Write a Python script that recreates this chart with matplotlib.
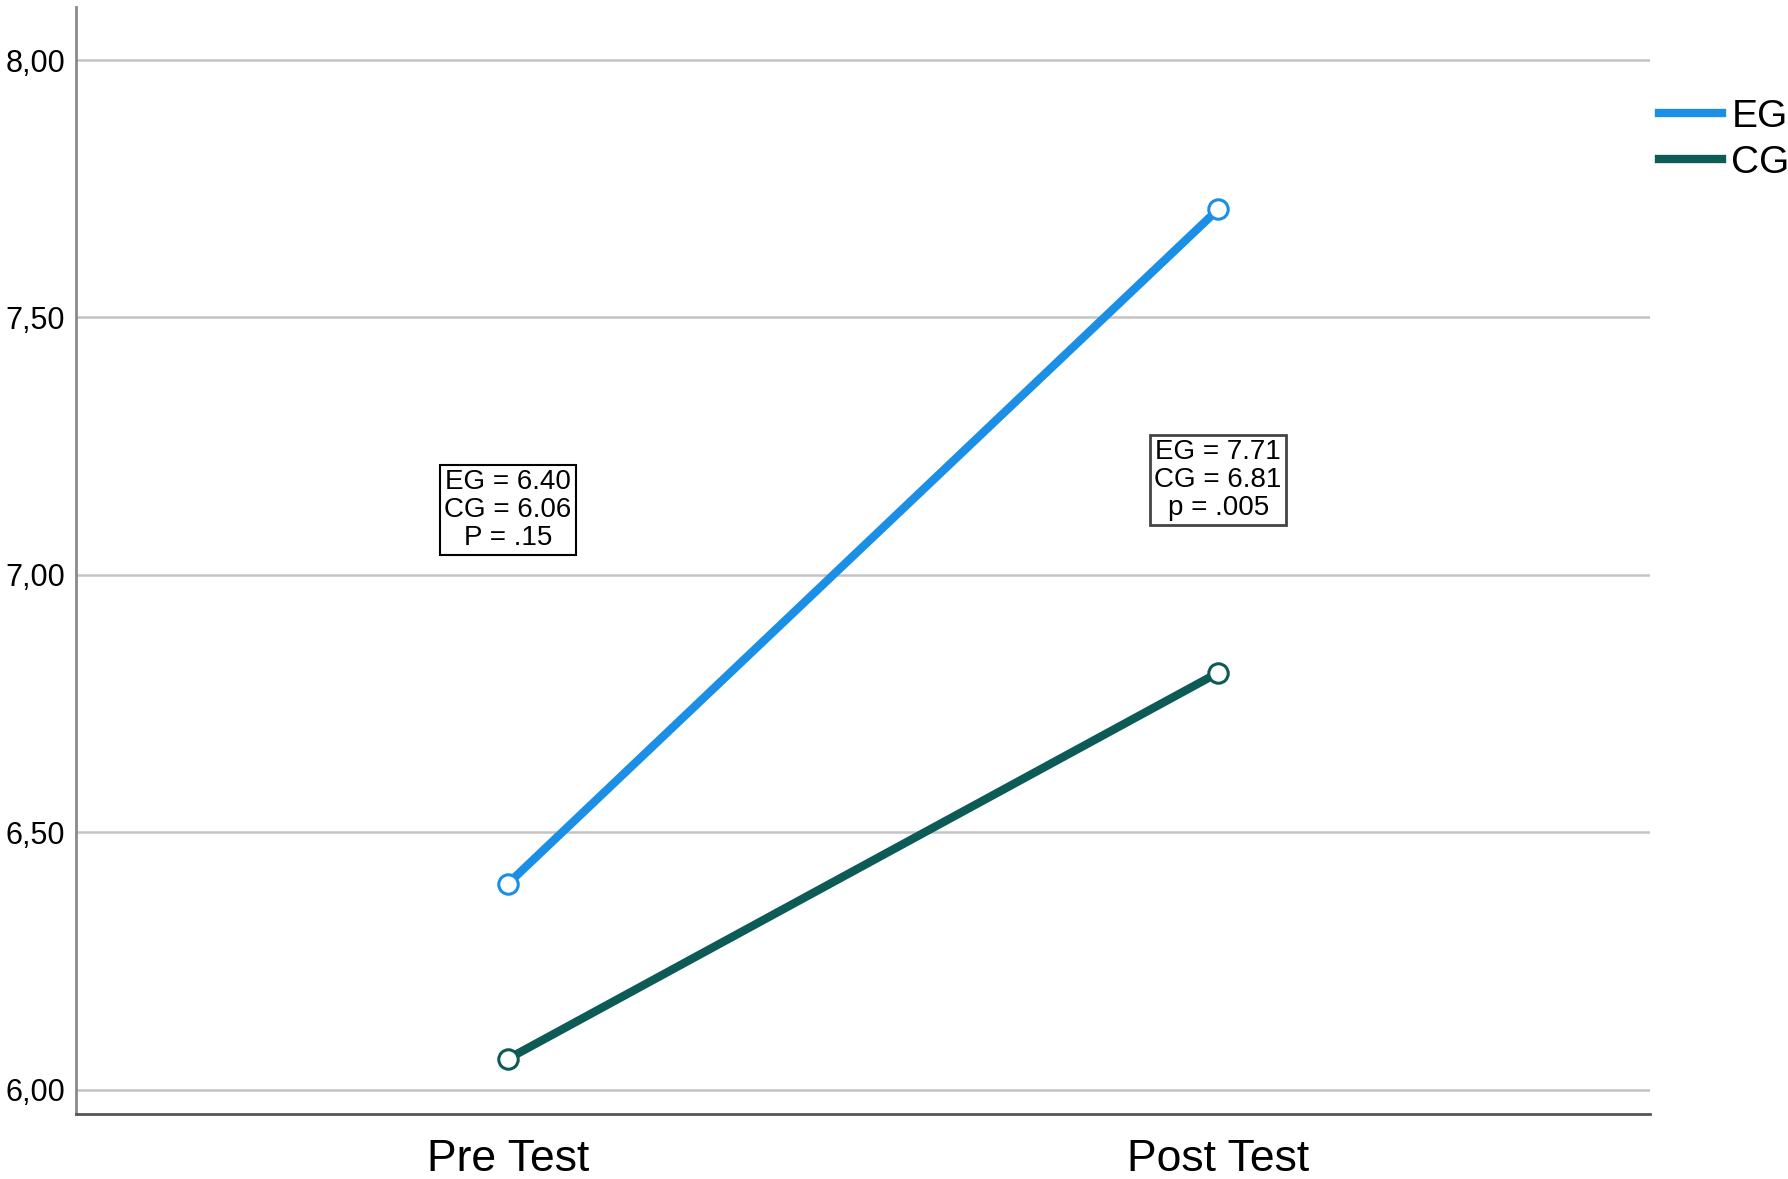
import matplotlib.pyplot as plt

plt.rcParams['font.family'] = ['Liberation Sans', 'DejaVu Sans']

# data
tests = ['Pre Test', 'Post Test']
eg_means = [6.40, 7.71]
cg_means = [6.06, 6.81]
y_ticks = [6.0, 6.5, 7.0, 7.5, 8.0]
pre_note = 'EG = 6.40\nCG = 6.06\nP = .15'
post_note = 'EG = 7.71\nCG = 6.81\np = .005'

fig = plt.figure(figsize=(17.88, 11.79), dpi=100)
ax = fig.add_axes([76 / 1788, 1 - 1114 / 1179, (1650 - 76) / 1788, (1114 - 7) / 1179])

x = list(range(len(tests)))

# gridlines at the y ticks
for yv in y_ticks:
    ax.axhline(yv, color='#c4c4c4', linewidth=1.8, zorder=0)

ax.plot(x, eg_means, color='#1b8fe6', linewidth=6, marker='o', markersize=14,
        markerfacecolor='white', markeredgewidth=2.2, label='EG', zorder=3)
ax.plot(x, cg_means, color='#0c5b57', linewidth=6, marker='o', markersize=14,
        markerfacecolor='white', markeredgewidth=2.2, label='CG', zorder=3)

# annotation boxes
box = dict(boxstyle='square,pad=0.15', facecolor='white', edgecolor='black', linewidth=1.5)
ax.text(0, 7.126, pre_note, ha='center', va='center', fontsize=20, linespacing=1.1,
        bbox=box, zorder=4)
box2 = dict(boxstyle='square,pad=0.15', facecolor='white', edgecolor='#444444', linewidth=2)
ax.text(1, 7.184, post_note, ha='center', va='center', fontsize=20, linespacing=1.1,
        bbox=box2, zorder=4)

ax.set_xlim(-0.608, 1.608)
ax.set_ylim(5.953, 8.103)
ax.set_xticks(x)
ax.set_xticklabels(tests, fontsize=32)
ax.set_yticks(y_ticks)
ax.set_yticklabels([f'{v:.2f}'.replace('.', ',') for v in y_ticks], fontsize=22)
ax.tick_params(axis='x', length=0, pad=18)
ax.tick_params(axis='y', length=0, pad=8)

ax.spines['top'].set_visible(False)
ax.spines['right'].set_visible(False)
ax.spines['left'].set_color('#8a8a8a')
ax.spines['left'].set_linewidth(2)
ax.spines['bottom'].set_color('#555555')
ax.spines['bottom'].set_linewidth(2)

leg = ax.legend(loc='upper left', bbox_to_anchor=(1.006, 0.917), frameon=False,
                fontsize=28, handlelength=1.6, handletextpad=0.25, labelspacing=0.25,
                borderaxespad=0, borderpad=0)
for line in leg.get_lines():
    line.set_marker('')
    line.set_linewidth(6)

fig.savefig('out.png', dpi=100)
